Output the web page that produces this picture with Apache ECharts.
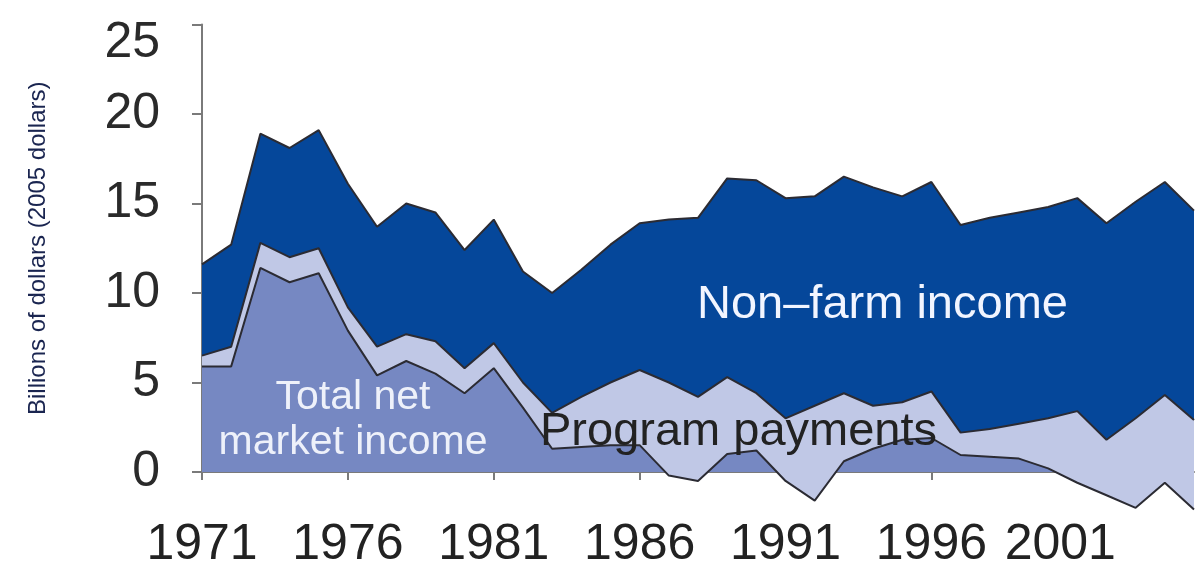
<!DOCTYPE html>
<html>
<head>
<meta charset="utf-8">
<script src="https://cdn.jsdelivr.net/npm/echarts@6/dist/echarts.min.js"></script>
<style>
  html, body { margin: 0; padding: 0; background: #ffffff; }
  #chart { width: 1197px; height: 576px; }
</style>
</head>
<body>
<div id="chart"></div>
<script>
// Farm household income components, billions of 2005 dollars
const years = [
  '1971','1972','1973','1974','1975','1976','1977','1978','1979','1980',
  '1981','1982','1983','1984','1985','1986','1987','1988','1989','1990',
  '1991','1992','1993','1994','1995','1996','1997','1998','1999','2000',
  '2001','2002','2003','2004','2005'
];

// Total net market income (can fall below zero)
const marketIncome = [
  5.9, 5.9, 11.4, 10.6, 11.1, 7.9, 5.4, 6.2, 5.5, 4.4,
  5.8, 3.6, 1.3, 1.4, 1.5, 1.5, -0.2, -0.5, 1.0, 1.2,
  -0.5, -1.6, 0.6, 1.3, 1.8, 1.9, 0.95, 0.85, 0.75, 0.2,
  -0.6, -1.3, -2.0, -0.6, -2.1
];

// Government program payments
const programPayments = [
  0.6, 1.1, 1.4, 1.4, 1.4, 1.3, 1.6, 1.5, 1.8, 1.4,
  1.4, 1.4, 2.0, 2.8, 3.5, 4.2, 5.2, 4.7, 4.3, 3.2,
  3.5, 5.3, 3.8, 2.4, 2.1, 2.6, 1.25, 1.55, 1.95, 2.8,
  4.0, 3.1, 5.0, 4.9, 5.0
];

// Non-farm income
const nonFarmIncome = [
  5.1, 5.7, 6.1, 6.1, 6.6, 6.9, 6.7, 7.3, 7.2, 6.6,
  6.9, 6.2, 6.7, 7.1, 7.7, 8.2, 9.1, 10.0, 11.1, 11.9,
  12.3, 11.7, 12.1, 12.2, 11.5, 11.7, 11.6, 11.8, 11.8, 11.8,
  11.9, 12.1, 12.1, 11.9, 11.7
];

const yTicks = [0, 5, 10, 15, 20, 25];

const FONT = '"Liberation Sans", Arial, Helvetica, sans-serif';
const outline = { color: '#2b2b33', width: 2 };

// closing edge of the stacked band at the last year
const last = years.length - 1;
const lastBottom = marketIncome[last];
const lastTop = marketIncome[last] + programPayments[last] + nonFarmIncome[last];

const chart = echarts.init(document.getElementById('chart'), null, { renderer: 'canvas' });

function areaSeries(name, data, fill) {
  return {
    name: name,
    type: 'line',
    stack: 'income',
    stackStrategy: 'all',
    data: data,
    showSymbol: false,
    symbol: 'none',
    clip: false,
    lineStyle: outline,
    areaStyle: { color: fill, opacity: 1 },
    emphasis: { disabled: true }
  };
}

const series = [
  areaSeries('Total net market income', marketIncome, '#7688c2'),
  areaSeries('Program payments', programPayments, '#c0c8e6'),
  areaSeries('Non-farm income', nonFarmIncome, '#05479a')
];
series[2].markLine = {
  silent: true,
  symbol: 'none',
  label: { show: false },
  lineStyle: { color: '#8a8a8a', width: 2, type: 'solid' },
  data: [[{ coord: [years[last], lastBottom] }, { coord: [years[last], lastTop] }]]
};

const labelText = { fontSize: 50, fontFamily: FONT, color: '#2a2a2a' };

chart.setOption({
  animation: false,
  backgroundColor: '#ffffff',
  grid: { left: 202, right: 3, top: 24.5, bottom: 104, containLabel: false },
  xAxis: {
    type: 'category',
    data: years,
    boundaryGap: false,
    axisLine: { show: true, onZero: false, lineStyle: { color: '#7a7a7a', width: 2 } },
    axisTick: { show: true, interval: 4, length: 8, lineStyle: { color: '#7a7a7a', width: 2 } },
    axisLabel: {
      interval: 4,
      margin: 48,
      fontSize: 50,
      fontFamily: FONT,
      color: '#222222',
      formatter: function (v) {
        return v === '2001' ? '{tight|' + v + '}' : v;
      },
      rich: {
        tight: Object.assign({}, labelText, { color: '#222222', padding: [0, 34, 0, 0] })
      }
    },
    splitLine: { show: false },
    z: 1
  },
  yAxis: {
    type: 'value',
    min: yTicks[0],
    max: yTicks[yTicks.length - 1],
    interval: 5,
    name: 'Billions of dollars (2005 dollars)',
    nameLocation: 'middle',
    nameGap: 152,
    nameRotate: 90,
    nameTextStyle: { fontSize: 24, fontFamily: FONT, color: '#1a2550' },
    axisLine: { show: true, lineStyle: { color: '#7a7a7a', width: 2 } },
    axisTick: { show: true, length: 10, lineStyle: { color: '#7a7a7a', width: 2 } },
    axisLabel: {
      margin: 42,
      fontSize: 50,
      fontFamily: FONT,
      color: '#2a2a2a',
      formatter: function (v) {
        return v === yTicks[yTicks.length - 1] ? '{top|' + v + '}' : String(v);
      },
      rich: {
        top: Object.assign({}, labelText, { padding: [38, 0, 0, 0] })
      }
    },
    splitLine: { show: false }
  },
  series: series,
  graphic: [
    {
      type: 'text',
      left: 697, top: 282,
      style: { text: 'Non\u2013farm income', font: '47px ' + FONT, fill: '#f2f5ff' },
      z: 100
    },
    {
      type: 'text',
      x: 353, y: 375,
      style: {
        text: 'Total net\nmarket income',
        font: '41px ' + FONT,
        fill: '#eef1fa',
        align: 'center',
        lineHeight: 45
      },
      z: 100
    },
    {
      type: 'text',
      left: 540, top: 409,
      style: { text: 'Program payments', font: '47px ' + FONT, fill: '#222222' },
      z: 100
    }
  ]
});
</script>
</body>
</html>
